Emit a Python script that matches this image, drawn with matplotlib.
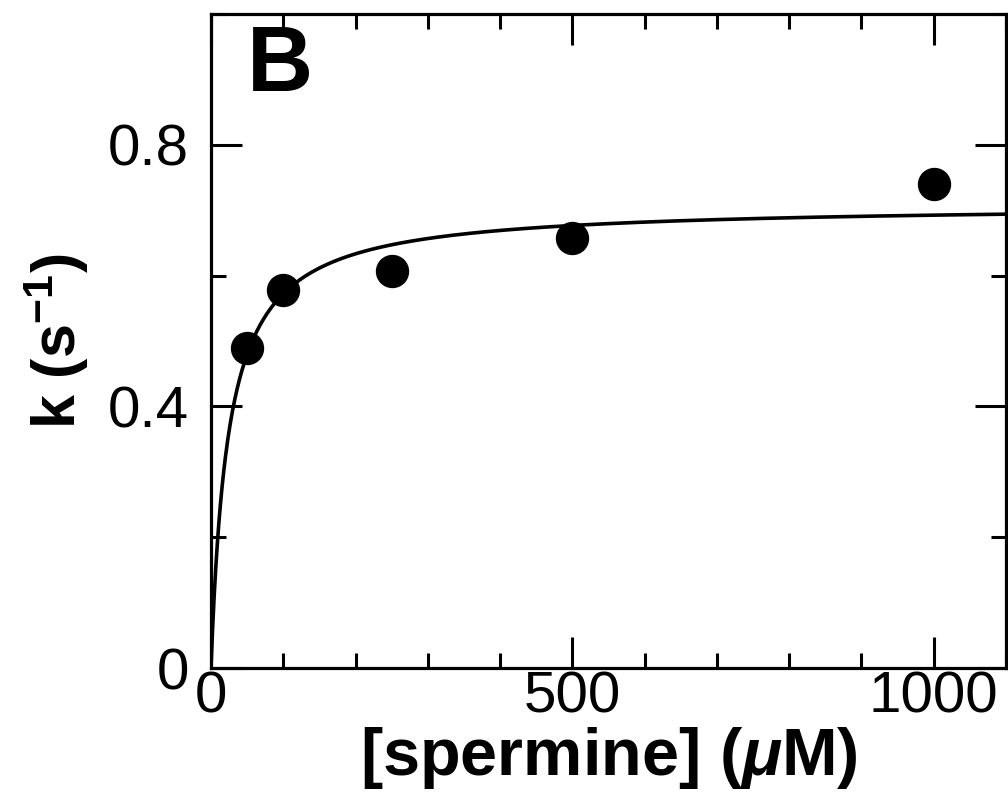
import numpy as np
import matplotlib
matplotlib.use("Agg")
import matplotlib.pyplot as plt
from matplotlib.ticker import MultipleLocator, FixedLocator

# Data
spermine_uM = [50, 100, 250, 500, 1000]
k_obs = [0.489, 0.578, 0.607, 0.658, 0.740]
# hyperbolic fit parameters
fit_kmax = 0.709
fit_Kd = 23.9
x_ticks = [0, 500, 1000]
x_ticklabels = ["0", "500", "1000"]
y_ticks = [0, 0.4, 0.8]
y_ticklabels = ["0", "0.4", "0.8"]

plt.rcParams['font.family'] = ['Liberation Sans', 'DejaVu Sans']
plt.rcParams['mathtext.fontset'] = 'custom'
plt.rcParams['mathtext.rm'] = 'Liberation Sans:bold'
plt.rcParams['mathtext.bf'] = 'Liberation Sans:bold'
plt.rcParams['mathtext.it'] = 'Liberation Sans:italic:bold'

fig = plt.figure(figsize=(10.08, 7.92), dpi=100)
ax = fig.add_axes([211/1008, 1 - 668/792, (1006 - 211)/1008, (668 - 14)/792])

xfit = np.linspace(0, 1100, 1000)
yfit = fit_kmax * xfit / (fit_Kd + xfit)
ax.plot(xfit, yfit, color='black', lw=2.6, solid_capstyle='butt', zorder=2)
ax.plot(spermine_uM, k_obs, 'o', color='black', ms=23, zorder=3, clip_on=False)

ax.set_xlim(0, 1100)
ax.set_ylim(0, 1.0)
ax.xaxis.set_major_locator(FixedLocator(x_ticks))
ax.set_xticklabels(x_ticklabels)
ax.xaxis.set_minor_locator(MultipleLocator(100))
ax.yaxis.set_major_locator(FixedLocator(y_ticks))
ax.set_yticklabels(y_ticklabels)
ax.yaxis.set_minor_locator(MultipleLocator(0.2))

for s in ax.spines.values():
    s.set_linewidth(2.3)
ax.tick_params(which='both', direction='in', top=True, right=True, width=2.2, labelsize=42)
ax.tick_params(which='major', length=22)
ax.tick_params(which='minor', length=11)
ax.tick_params(axis='x', pad=2)
ax.tick_params(axis='y', pad=16)

ax.set_xlabel(r"[spermine] ($\mu$M)", fontsize=48, fontweight='bold', labelpad=0)
ax.set_ylabel(r"k (s$^{\mathbf{-1}}$)", fontsize=44, fontweight='bold', labelpad=12)

ax.text(0.045, 0.985, "B", transform=ax.transAxes, fontsize=66, fontweight='bold',
        va='top', ha='left')

fig.savefig("out.png", dpi=100)
